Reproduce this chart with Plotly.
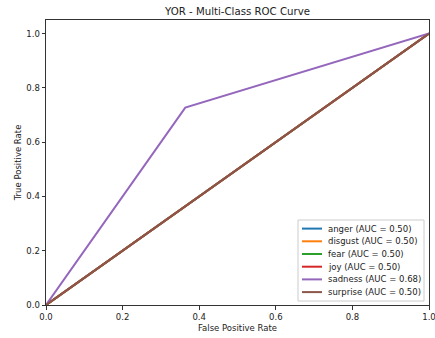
import plotly.graph_objects as go

classes = ["anger", "disgust", "fear", "joy", "sadness", "surprise"]
aucs = [0.50, 0.50, 0.50, 0.50, 0.68, 0.50]
fpr = [
    [0.0, 1.0],
    [0.0, 1.0],
    [0.0, 1.0],
    [0.0, 1.0],
    [0.0, 0.3636, 1.0],
    [0.0, 1.0],
]
tpr = [
    [0.0, 1.0],
    [0.0, 1.0],
    [0.0, 1.0],
    [0.0, 1.0],
    [0.0, 0.7273, 1.0],
    [0.0, 1.0],
]
colors = ["#1f77b4", "#ff7f0e", "#2ca02c", "#d62728", "#9467bd", "#8c564b"]
ticks = [0.0, 0.2, 0.4, 0.6, 0.8, 1.0]

W, H = 435, 338
ML, MR, MT, MB = 46, 6, 20, 33
PW, PH = W - ML - MR, H - MT - MB
FONT = "DejaVu Sans"
FS = 8.5

fig = go.Figure()
for c, a, x, y, col in zip(classes, aucs, fpr, tpr, colors):
    fig.add_trace(go.Scatter(x=x, y=y, mode="lines", name=f"{c} (AUC = {a:.2f})",
                             line=dict(color=col, width=2), showlegend=False))

# custom matplotlib-like legend (layout positions in pixels -> paper)
def px(x):
    return (x - ML) / PW

def py(y):
    return (H - MB - y) / PH

shapes = [dict(type="rect", xref="paper", yref="paper",
               x0=px(298), x1=px(424), y0=py(301), y1=py(220),
               fillcolor="rgba(255,255,255,0.8)", line=dict(color="#cccccc", width=1), layer="above")]
annotations = []
for i, (c, a, col) in enumerate(zip(classes, aucs, colors)):
    ry = 228.6 + i * 12.7
    shapes.append(dict(type="line", xref="paper", yref="paper",
                       x0=px(302), x1=px(322), y0=py(ry), y1=py(ry),
                       line=dict(color=col, width=2), layer="above"))
    annotations.append(dict(xref="paper", yref="paper", x=px(326), y=py(ry),
                            xanchor="left", yanchor="middle", showarrow=False,
                            text=f"{c} (AUC = {a:.2f})",
                            font=dict(family=FONT, size=FS, color="#222")))

axis_common = dict(showgrid=False, zeroline=False, showline=True, linecolor="#333",
                   linewidth=1, mirror=True, ticks="outside", ticklen=3.5, tickcolor="#333",
                   tickvals=ticks, tickformat=".1f", ticklabeloverflow="allow",
                   automargin=False,
                   tickfont=dict(family=FONT, size=FS, color="#222"))

fig.update_layout(
    width=W, height=H,
    margin=dict(l=ML, r=MR, t=MT, b=MB),
    paper_bgcolor="white", plot_bgcolor="white",
    title=dict(text="YOR - Multi-Class ROC Curve", x=(ML + PW / 2) / W, xanchor="center",
               y=1 - 11 / H, yanchor="middle",
               font=dict(family=FONT, size=10.2, color="#222")),
    xaxis=dict(range=[0, 1], title=dict(text="False Positive Rate", standoff=4,
               font=dict(family=FONT, size=FS, color="#222")), **axis_common),
    yaxis=dict(range=[0, 1.05], title=dict(text="True Positive Rate", standoff=3,
               font=dict(family=FONT, size=FS, color="#222")), **axis_common),
    shapes=shapes,
    annotations=annotations,
    showlegend=False,
)

fig.write_html("out.html")
